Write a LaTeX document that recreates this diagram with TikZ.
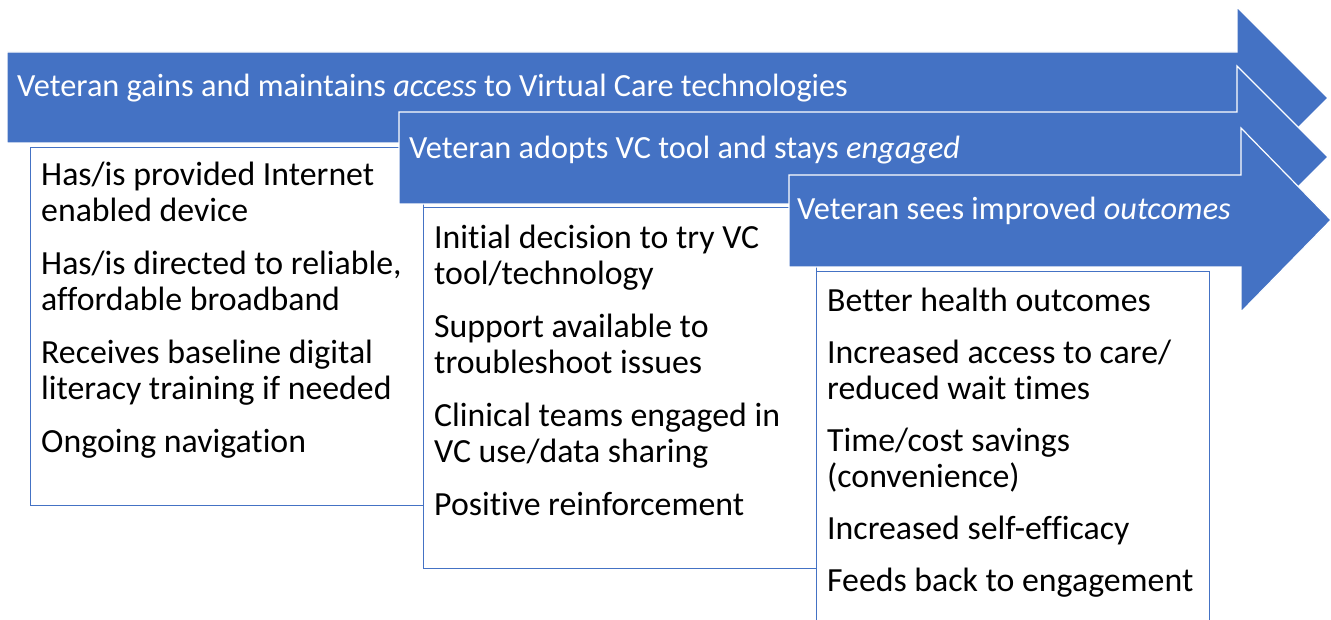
\documentclass[tikz,border=0pt]{standalone}
\usepackage{fontspec}
\setmainfont{Carlito}[Ligatures=CommonOff]
\definecolor{vcblue}{HTML}{4472C4}

\begin{document}
\begin{tikzpicture}[x=1pt, y=-1pt,
    stage/.style={fill=vcblue, draw=white, line width=1.2pt},
    stagelabel/.style={anchor=base west, inner sep=0pt, text=white,
      font=\fontsize{32.3}{38}\selectfont},
    listbox/.style={draw=vcblue, fill=white, line width=1.2pt,
      anchor=north west, inner sep=0pt, minimum width=393pt},
    % base of a list node is its last line
    listtext/.style={anchor=base west, inner sep=0pt, align=left,
      font=\fontsize{33.8}{36}\selectfont}]
  \useasboundingbox (0,0) rectangle (1331,620);
  \clip (0,0) rectangle (1331,620);

  % first stage: access
  \draw[stage] (7,52) -- (1237,52) -- (1237,7) -- (1328,98)
    -- (1237,189) -- (1237,143) -- (7,143) -- cycle;
  \node[stagelabel] (access) at (17,97)
    {Veteran gains and maintains \textit{access} to Virtual Care technologies};
  \node[listbox, minimum height=358pt] (box1) at (30,147) {};
  \node[listtext] (items1) at ([shift={(11,305)}]box1.north west)
    {Has/is provided Internet\\ enabled device\\[17pt]
     Has/is directed to reliable,\\ affordable broadband\\[17pt]
     Receives baseline digital\\ literacy training if needed\\[17pt]
     Ongoing navigation};

  % second stage: engagement
  \draw[stage] (399,112) -- (1237,112) -- (1237,66) -- (1328,157)
    -- (1237,248) -- (1237,204) -- (399,204) -- cycle;
  \node[stagelabel] (engaged) at (409,159)
    {Veteran adopts VC tool and stays \textit{engaged}};
  \node[listbox, minimum height=361pt] (box2) at (423,207) {};
  \node[listtext] (items2) at ([shift={(11,308)}]box2.north west)
    {Initial decision to try VC\\ tool/technology\\[17pt]
     Support available to\\ troubleshoot issues\\[17pt]
     Clinical teams engaged in\\ VC use/data sharing\\[17pt]
     Positive reinforcement};

  % third stage: outcomes
  \draw[stage] (789,175) -- (1241,175) -- (1241,128) -- (1331,220)
    -- (1241,312) -- (1241,267) -- (789,267) -- cycle;
  \node[stagelabel] (outcomes) at (797,220)
    {Veteran sees improved \textit{outcomes}};
  \node[listbox, minimum height=400pt] (box3) at (816,271) {};
  \node[listtext] (items3) at ([shift={(11,320)}]box3.north west)
    {Better health outcomes\\[16pt]
     Increased access to care/\\ reduced wait times\\[16pt]
     Time/cost savings\\ (convenience)\\[16pt]
     Increased self-efficacy\\[16pt]
     Feeds back to engagement};
\end{tikzpicture}
\end{document}
